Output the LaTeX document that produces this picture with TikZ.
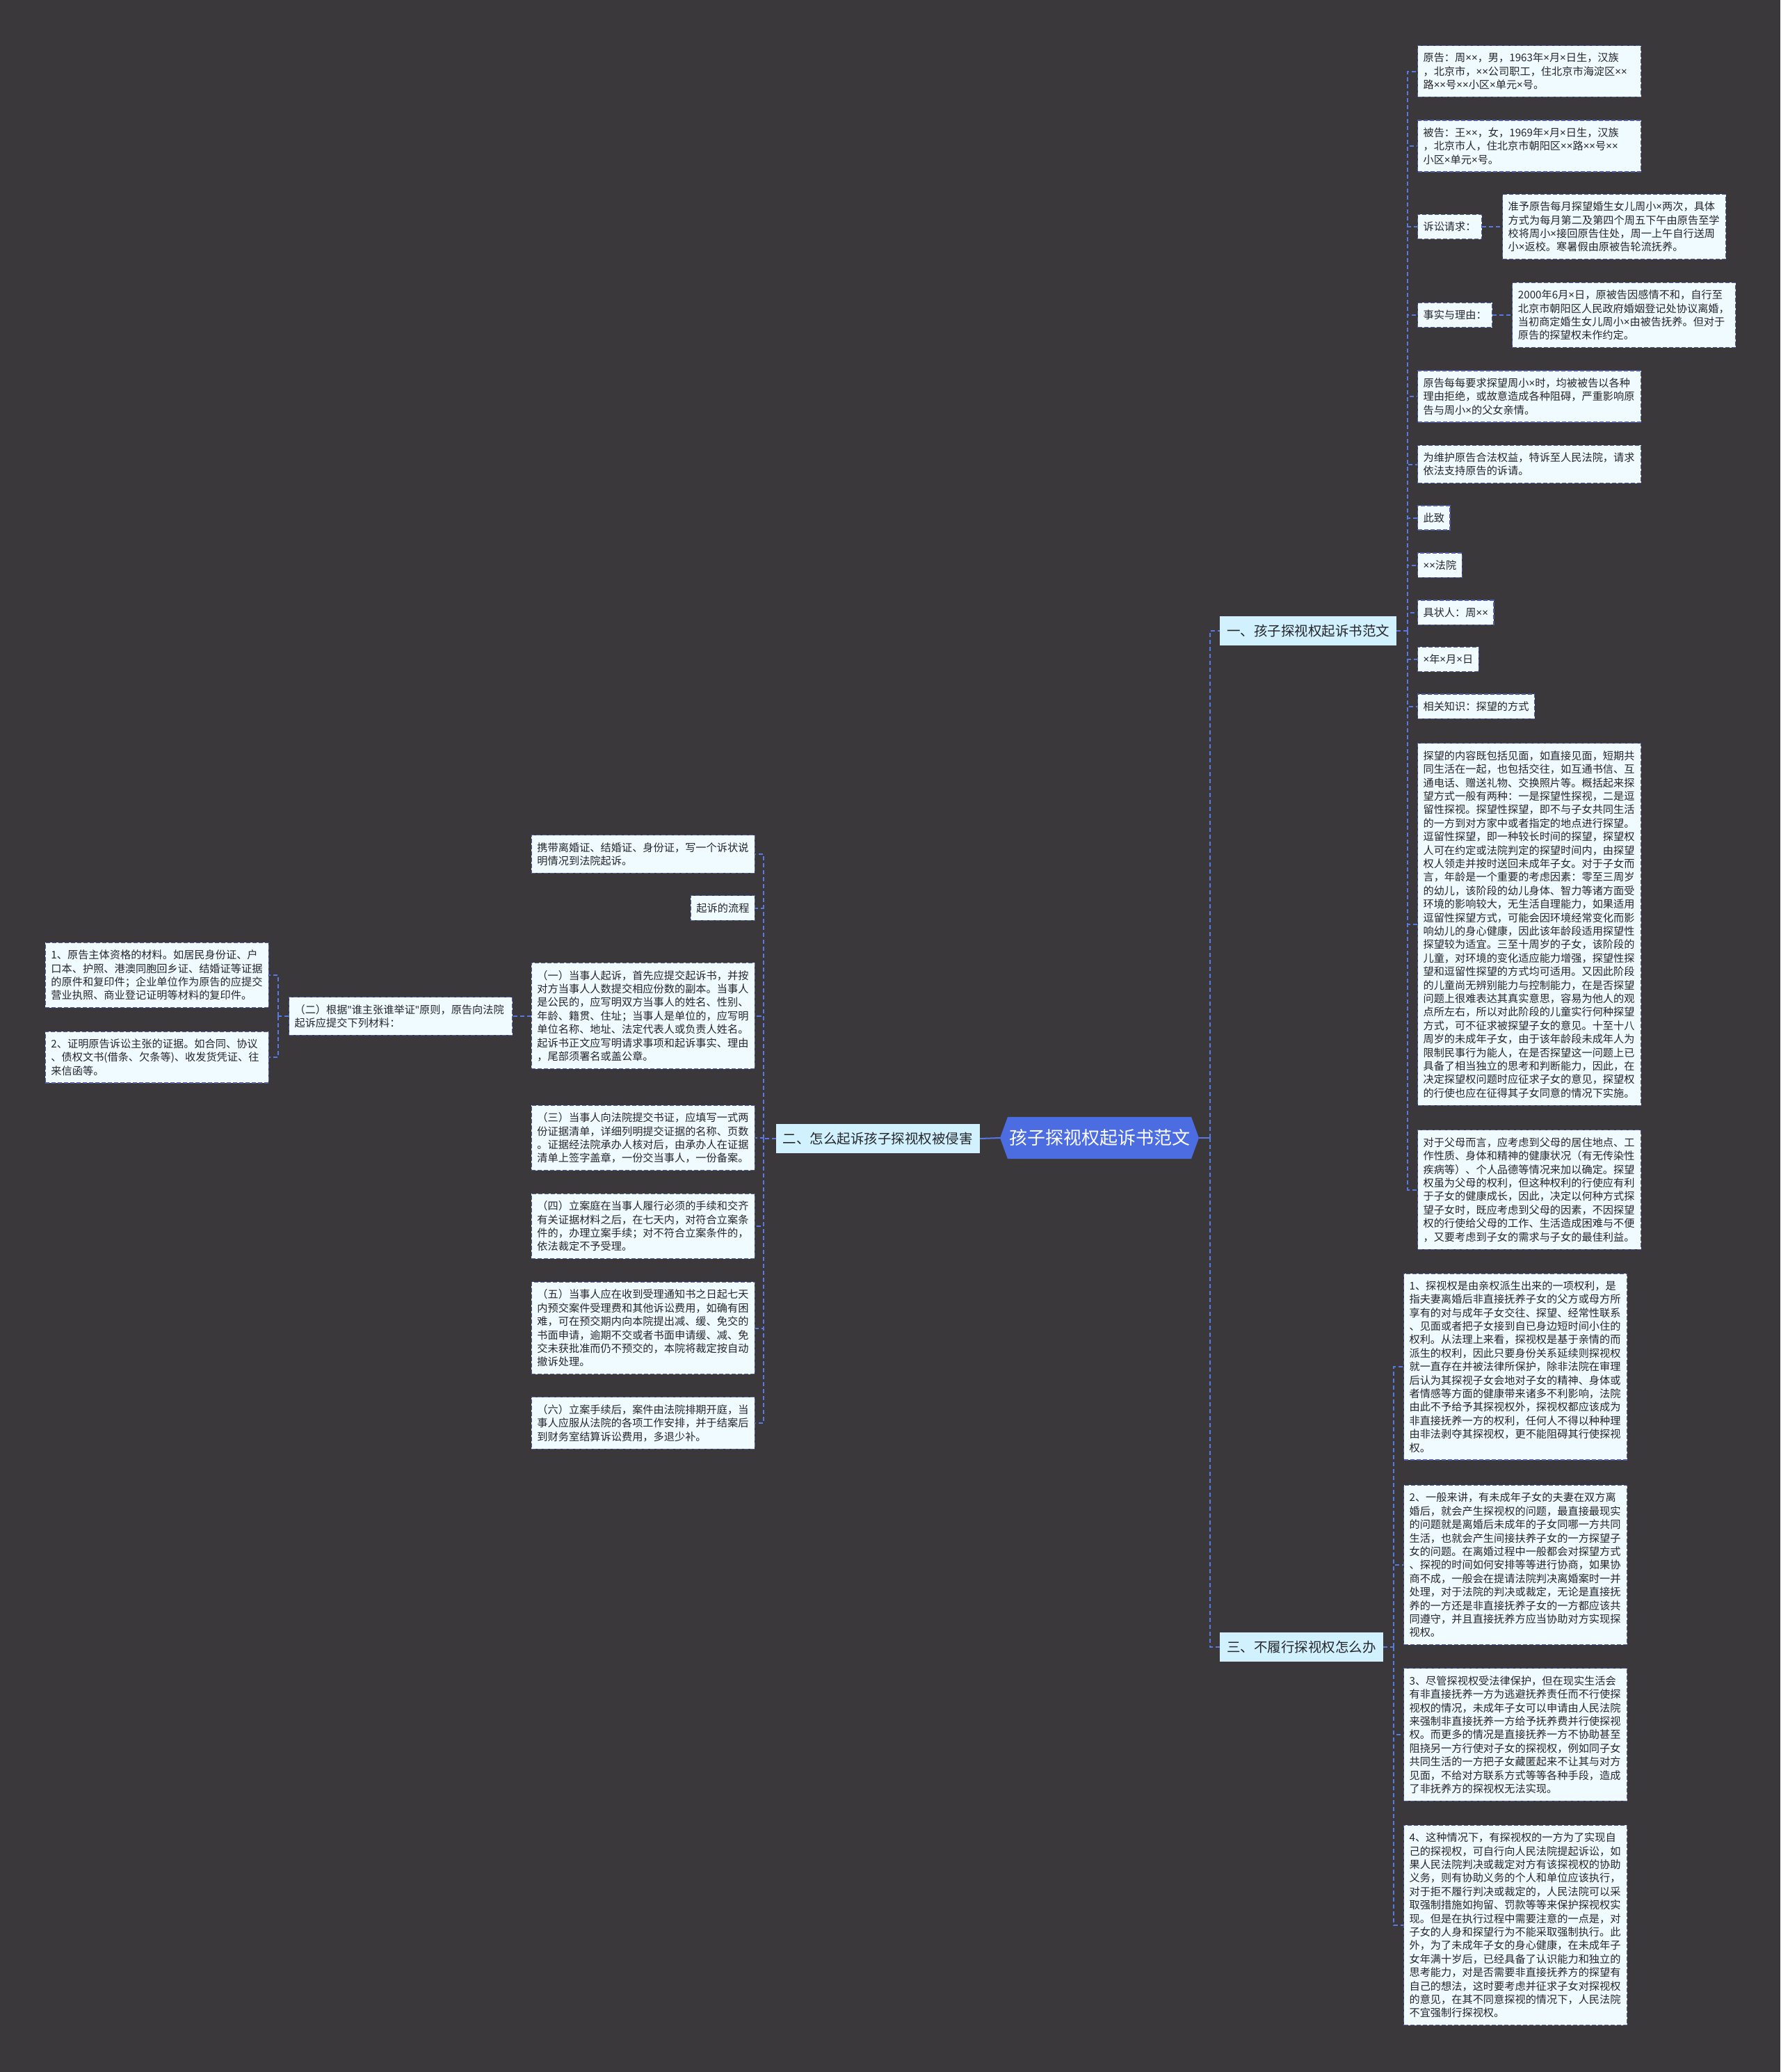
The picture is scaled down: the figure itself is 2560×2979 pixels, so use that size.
\documentclass[tikz,border=0pt]{standalone}
\usepackage{fontspec}
\setmainfont{Noto Sans CJK SC}
\newfontfamily\latinfont{Noto Sans}
\usepackage{tikz}
\usetikzlibrary{positioning,shapes.symbols}
\definecolor{mapbg}{RGB}{58,56,59}
\definecolor{mapline}{RGB}{88,120,228}
\definecolor{mapedge}{RGB}{82,94,168}
\definecolor{mapleaf}{RGB}{240,251,255}
\definecolor{maptopic}{RGB}{208,241,253}
\definecolor{maproot}{RGB}{76,108,226}
\definecolor{mapink}{RGB}{38,38,42}
\pgfdeclarelayer{back}
\pgfdeclarelayer{wires}
\pgfsetlayers{back,wires,main}
\newcommand{\leaffont}{\fontsize{15.2}{19.4}\selectfont}
\newcommand{\X}{{\latinfont ×}}
\newcommand{\Q}{{\latinfont "}}

\begin{document}
\begin{tikzpicture}[x=1pt,y=-1pt,
  root/.style={shape=signal,signal to=east and west,signal pointer angle=140,
    fill=maproot,text=white,font=\fontsize{26}{30}\selectfont,inner xsep=2pt,inner ysep=18pt},
  topic/.style={fill=maptopic,text=mapink,font=\fontsize{19.5}{23}\selectfont,
    inner xsep=10pt,inner ysep=12pt},
  tag/.style={draw=mapedge,dash pattern=on 6pt off 3pt,line width=1.1pt,fill=mapleaf,
    text=mapink,font=\leaffont,inner xsep=8pt,inner ysep=10.5pt},
  leaf/.style={tag,text width=305pt,align=left},
  trunk/.style={draw=mapline,line width=2pt},
  link/.style={trunk,dash pattern=on 6pt off 4pt}]
\begin{pgfonlayer}{back}
\fill[mapbg] (0,0) rectangle (2560,2979);
\end{pgfonlayer}
\useasboundingbox (0,0) rectangle (2560,2979);

% centre and topics
\node[root] (root) at (1581,1636) {孩子探视权起诉书范文};
\node[topic,anchor=west] (one) at (1754,907) {一、孩子探视权起诉书范文};
\node[topic,anchor=east] (two) at (1409,1637) {二、怎么起诉孩子探视权被侵害};
\node[topic,anchor=west] (three) at (1754,2368) {三、不履行探视权怎么办};

% topic one
\node[leaf,anchor=west] (plaintiff) at (2038,102.5) {原告：周\X{}\X{}，男，1963年\X{}月\X{}日生，汉族\\，北京市，\X{}\X{}公司职工，住北京市海淀区\X{}\X{}\\路\X{}\X{}号\X{}\X{}小区\X{}单元\X{}号。};
\node[leaf,anchor=west] (defendant) at (2038,210) {被告：王\X{}\X{}，女，1969年\X{}月\X{}日生，汉族\\，北京市人，住北京市朝阳区\X{}\X{}路\X{}\X{}号\X{}\X{}\\小区\X{}单元\X{}号。};
\node[tag,anchor=west] (claimtag) at (2038,326) {诉讼请求：};
\node[leaf,right=29pt of claimtag] (claim) {准予原告每月探望婚生女儿周小\X{}两次，具体\\方式为每月第二及第四个周五下午由原告至学\\校将周小\X{}接回原告住处，周一上午自行送周\\小\X{}返校。寒暑假由原被告轮流抚养。};
\node[tag,anchor=west] (facttag) at (2038,453) {事实与理由：};
\node[leaf,right=28pt of facttag] (fact) {2000年6月\X{}日，原被告因感情不和，自行至\\北京市朝阳区人民政府婚姻登记处协议离婚，\\当初商定婚生女儿周小\X{}由被告抚养。但对于\\原告的探望权未作约定。};
\node[leaf,anchor=west] (refused) at (2038,570) {原告每每要求探望周小\X{}时，均被被告以各种\\理由拒绝，或故意造成各种阻碍，严重影响原\\告与周小\X{}的父女亲情。};
\node[leaf,anchor=west] (petition) at (2038,667.5) {为维护原告合法权益，特诉至人民法院，请求\\依法支持原告的诉请。};
\node[tag,anchor=west] (salute) at (2038,744.5) {此致};
\node[tag,anchor=west] (court) at (2038,812.5) {\X{}\X{}法院};
\node[tag,anchor=west] (signer) at (2038,880.5) {具状人：周\X{}\X{}};
\node[tag,anchor=west] (date) at (2038,948) {\X{}年\X{}月\X{}日};
\node[tag,anchor=west] (related) at (2038,1015.5) {相关知识：探望的方式};
\node[leaf,anchor=west] (modes) at (2038,1329) {探望的内容既包括见面，如直接见面，短期共\\同生活在一起，也包括交往，如互通书信、互\\通电话、赠送礼物、交换照片等。概括起来探\\望方式一般有两种：一是探望性探视，二是逗\\留性探视。探望性探望，即不与子女共同生活\\的一方到对方家中或者指定的地点进行探望。\\逗留性探望，即一种较长时间的探望，探望权\\人可在约定或法院判定的探望时间内，由探望\\权人领走并按时送回未成年子女。对于子女而\\言，年龄是一个重要的考虑因素：零至三周岁\\的幼儿，该阶段的幼儿身体、智力等诸方面受\\环境的影响较大，无生活自理能力，如果适用\\逗留性探望方式，可能会因环境经常变化而影\\响幼儿的身心健康，因此该年龄段适用探望性\\探望较为适宜。三至十周岁的子女，该阶段的\\儿童，对环境的变化适应能力增强，探望性探\\望和逗留性探望的方式均可适用。又因此阶段\\的儿童尚无辨别能力与控制能力，在是否探望\\问题上很难表达其真实意思，容易为他人的观\\点所左右，所以对此阶段的儿童实行何种探望\\方式，可不征求被探望子女的意见。十至十八\\周岁的未成年子女，由于该年龄段未成年人为\\限制民事行为能人，在是否探望这一问题上已\\具备了相当独立的思考和判断能力，因此，在\\决定探望权问题时应征求子女的意见，探望权\\的行使也应在征得其子女同意的情况下实施。};
\node[leaf,anchor=west] (parents) at (2038,1710.5) {对于父母而言，应考虑到父母的居住地点、工\\作性质、身体和精神的健康状况（有无传染性\\疾病等）、个人品德等情况来加以确定。探望\\权虽为父母的权利，但这种权利的行使应有利\\于子女的健康成长，因此，决定以何种方式探\\望子女时，既应考虑到父母的因素，不因探望\\权的行使给父母的工作、生活造成困难与不便\\，又要考虑到子女的需求与子女的最佳利益。};

% topic two
\node[leaf,anchor=east] (carry) at (1086,1228) {携带离婚证、结婚证、身份证，写一个诉状说\\明情况到法院起诉。};
\node[tag,anchor=east] (flow) at (1086,1305.5) {起诉的流程};
\node[leaf,anchor=east] (step1) at (1086,1460.5) {（一）当事人起诉，首先应提交起诉书，并按\\对方当事人人数提交相应份数的副本。当事人\\是公民的，应写明双方当事人的姓名、性别、\\年龄、籍贯、住址；当事人是单位的，应写明\\单位名称、地址、法定代表人或负责人姓名。\\起诉书正文应写明请求事项和起诉事实、理由\\，尾部须署名或盖公章。};
\node[leaf,anchor=west] (mats) at (415,1461) {（二）根据\Q{}谁主张谁举证\Q{}原则，原告向法院\\起诉应提交下列材料：};
\node[leaf,anchor=east] (mat1) at (387,1402) {1、原告主体资格的材料。如居民身份证、户\\口本、护照、港澳同胞回乡证、结婚证等证据\\的原件和复印件；企业单位作为原告的应提交\\营业执照、商业登记证明等材料的复印件。};
\node[leaf,anchor=east] (mat2) at (387,1520) {2、证明原告诉讼主张的证据。如合同、协议\\、债权文书(借条、欠条等)、收发货凭证、往\\来信函等。};
\node[leaf,anchor=east] (step3) at (1086,1636) {（三）当事人向法院提交书证，应填写一式两\\份证据清单，详细列明提交证据的名称、页数\\。证据经法院承办人核对后，由承办人在证据\\清单上签字盖章，一份交当事人，一份备案。};
\node[leaf,anchor=east] (step4) at (1086,1763) {（四）立案庭在当事人履行必须的手续和交齐\\有关证据材料之后，在七天内，对符合立案条\\件的，办理立案手续；对不符合立案条件的，\\依法裁定不予受理。};
\node[leaf,anchor=east] (step5) at (1086,1909.5) {（五）当事人应在收到受理通知书之日起七天\\内预交案件受理费和其他诉讼费用，如确有困\\难，可在预交期内向本院提出减、缓、免交的\\书面申请，逾期不交或者书面申请缓、减、免\\交未获批准而仍不预交的，本院将裁定按自动\\撤诉处理。};
\node[leaf,anchor=east] (step6) at (1086,2046) {（六）立案手续后，案件由法院排期开庭，当\\事人应服从法院的各项工作安排，并于结案后\\到财务室结算诉讼费用，多退少补。};

% topic three
\node[leaf,anchor=west] (visit1) at (2018,1965) {1、探视权是由亲权派生出来的一项权利，是\\指夫妻离婚后非直接抚养子女的父方或母方所\\享有的对与成年子女交往、探望、经常性联系\\、见面或者把子女接到自已身边短时间小住的\\权利。从法理上来看，探视权是基于亲情的而\\派生的权利，因此只要身份关系延续则探视权\\就一直存在并被法律所保护，除非法院在审理\\后认为其探视子女会地对子女的精神、身体或\\者情感等方面的健康带来诸多不利影响，法院\\由此不予给予其探视权外，探视权都应该成为\\非直接抚养一方的权利，任何人不得以种种理\\由非法剥夺其探视权，更不能阻碍其行使探视\\权。};
\node[leaf,anchor=west] (visit2) at (2018,2250) {2、一般来讲，有未成年子女的夫妻在双方离\\婚后，就会产生探视权的问题，最直接最现实\\的问题就是离婚后未成年的子女同哪一方共同\\生活，也就会产生间接扶养子女的一方探望子\\女的问题。在离婚过程中一般都会对探望方式\\、探视的时间如何安排等等进行协商，如果协\\商不成，一般会在提请法院判决离婚案时一并\\处理，对于法院的判决或裁定，无论是直接抚\\养的一方还是非直接抚养子女的一方都应该共\\同遵守，并且直接抚养方应当协助对方实现探\\视权。};
\node[leaf,anchor=west] (visit3) at (2018,2494) {3、尽管探视权受法律保护，但在现实生活会\\有非直接抚养一方为逃避抚养责任而不行使探\\视权的情况，未成年子女可以申请由人民法院\\来强制非直接抚养一方给予抚养费并行使探视\\权。而更多的情况是直接抚养一方不协助甚至\\阻挠另一方行使对子女的探视权，例如同子女\\共同生活的一方把子女藏匿起来不让其与对方\\见面，不给对方联系方式等等各种手段，造成\\了非抚养方的探视权无法实现。};
\node[leaf,anchor=west] (visit4) at (2018,2768) {4、这种情况下，有探视权的一方为了实现自\\己的探视权，可自行向人民法院提起诉讼，如\\果人民法院判决或裁定对方有该探视权的协助\\义务，则有协助义务的个人和单位应该执行，\\对于拒不履行判决或裁定的，人民法院可以采\\取强制措施如拘留、罚款等等来保护探视权实\\现。但是在执行过程中需要注意的一点是，对\\子女的人身和探望行为不能采取强制执行。此\\外，为了未成年子女的身心健康，在未成年子\\女年满十岁后，已经具备了认识能力和独立的\\思考能力，对是否需要非直接抚养方的探望有\\自己的想法，这时要考虑并征求子女对探视权\\的意见，在其不同意探视的情况下，人民法院\\不宜强制行探视权。};

% connectors
\coordinate (rbus) at (1740,1636);
\coordinate (bus1) at (2024,907);
\coordinate (bus2) at (1098,1637);
\coordinate (bus3) at (2004,2368);
\coordinate (bus4) at (400,1461);
\begin{pgfonlayer}{wires}
\draw[trunk] (root.east) -- (rbus);
\draw[trunk] (root.west) -- (two.east);
\draw[link] (rbus) |- (one.west);
\draw[link] (rbus) |- (three.west);
\draw[link] (one.east) -- (bus1);
\foreach \n in {plaintiff,defendant,claimtag,facttag,refused,petition,salute,court,signer,date,related,modes,parents}
  \draw[link] (bus1) |- (\n.west);
\draw[link] (claimtag.east) -- (claim.west);
\draw[link] (facttag.east) -- (fact.west);
\draw[link] (two.west) -- (bus2);
\foreach \n in {carry,flow,step1,mats,step3,step4,step5,step6}
  \draw[link] (bus2) |- (\n.east);
\draw[link] (mats.west) -- (bus4);
\foreach \n in {mat1,mat2}
  \draw[link] (bus4) |- (\n.east);
\draw[link] (three.east) -- (bus3);
\foreach \n in {visit1,visit2,visit3,visit4}
  \draw[link] (bus3) |- (\n.west);
\end{pgfonlayer}
\end{tikzpicture}
\end{document}
